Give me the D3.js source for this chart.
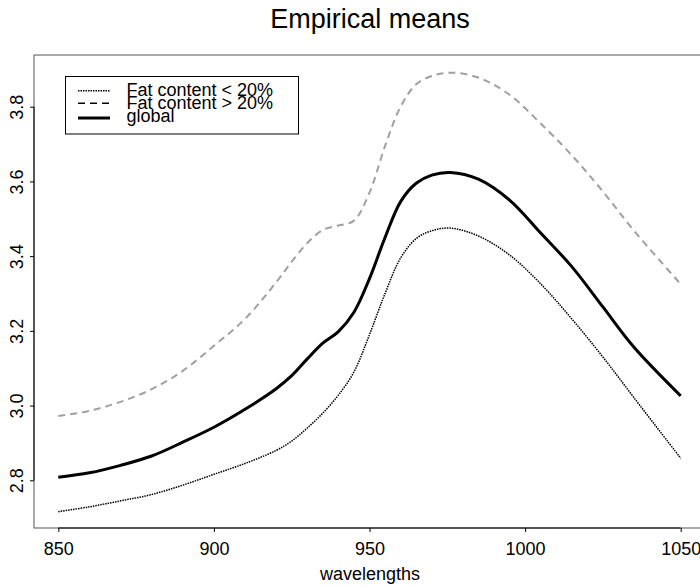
<!DOCTYPE html>
<html>
<head>
<meta charset="utf-8">
<script src="https://cdn.jsdelivr.net/npm/d3@7"></script>
<style>
  html, body { margin: 0; padding: 0; background: #fff; }
  svg { display: block; font-family: "Liberation Sans", Arial, Helvetica, sans-serif; }
</style>
</head>
<body>
<svg id="chart" width="700" height="587"></svg>
<script>
// ---- data ----
const wavelengths = [850, 860, 870, 880, 890, 900, 910, 920, 925, 930, 935, 940, 945, 950, 955, 960, 965, 970, 976, 985, 995, 1005, 1015, 1025, 1035, 1050];
const fatLow  = [2.716, 2.729, 2.745, 2.762, 2.787, 2.816, 2.845, 2.880, 2.905, 2.940, 2.980, 3.028, 3.090, 3.190, 3.300, 3.395, 3.447, 3.468, 3.475, 3.454, 3.403, 3.326, 3.232, 3.130, 3.021, 2.859];
const fatHigh = [2.972, 2.986, 3.010, 3.044, 3.093, 3.160, 3.232, 3.330, 3.385, 3.435, 3.470, 3.482, 3.495, 3.570, 3.695, 3.800, 3.860, 3.882, 3.891, 3.878, 3.832, 3.755, 3.670, 3.573, 3.468, 3.325];
const globalMean = [2.808, 2.820, 2.840, 2.865, 2.902, 2.942, 2.990, 3.045, 3.080, 3.125, 3.167, 3.198, 3.250, 3.340, 3.450, 3.546, 3.595, 3.617, 3.624, 3.606, 3.550, 3.462, 3.372, 3.264, 3.156, 3.026];
const xTicks = [850, 900, 950, 1000, 1050];
const yTicks = [2.8, 3.0, 3.2, 3.4, 3.6, 3.8];
const legendLabels = ["Fat content < 20%", "Fat content > 20%", "global"];
const titleText = "Empirical means";
const xLabel = "wavelengths";

// ---- layout ----
const svg = d3.select("#chart");
const box = { left: 34, top: 55, right: 706, bottom: 528 };
const x = d3.scaleLinear().domain([850, 1050]).range([58.3, 680.7]);
const y = d3.scaleLinear().domain([2.8, 3.8]).range([480.3, 106.7]);

// plot box
svg.append("rect")
  .attr("x", box.left).attr("y", box.top)
  .attr("width", box.right - box.left).attr("height", box.bottom - box.top)
  .attr("fill", "none").attr("stroke", "#555").attr("stroke-width", 1);

// x axis
const gx = svg.append("g").attr("transform", `translate(0,${box.bottom})`)
  .call(d3.axisBottom(x).tickValues(xTicks).tickFormat(d3.format("d")).tickSize(4).tickPadding(10));
gx.select(".domain").remove();
gx.append("line").attr("x1", x(850)).attr("x2", x(1050)).attr("stroke", "#000");
gx.selectAll("text").attr("font-size", 18).attr("fill", "#000").attr("font-family", null);
gx.selectAll(".tick line").attr("stroke", "#000");

// y axis
const gy = svg.append("g").attr("transform", `translate(${box.left},0)`)
  .call(d3.axisLeft(y).tickValues(yTicks).tickFormat(d3.format(".1f")).tickSize(4));
gy.select(".domain").remove();
gy.append("line").attr("y1", y(2.8)).attr("y2", y(3.8)).attr("stroke", "#000");
gy.selectAll(".tick line").attr("stroke", "#000");
gy.selectAll("text")
  .attr("font-size", 18).attr("fill", "#000").attr("font-family", null)
  .attr("transform", "rotate(-90)")
  .attr("x", 0).attr("y", -11).attr("dy", 0)
  .attr("text-anchor", "middle");

// lines
const line = d3.line().x((d, i) => x(wavelengths[i])).y(d => y(d)).curve(d3.curveCatmullRom.alpha(0.5));

svg.append("path").datum(fatHigh).attr("d", line)
  .attr("fill", "none").attr("stroke", "#a0a0a0").attr("stroke-width", 2)
  .attr("stroke-dasharray", "7,5");
svg.append("path").datum(fatLow).attr("d", line)
  .attr("fill", "none").attr("stroke", "#000").attr("stroke-width", 1.5)
  .attr("stroke-dasharray", "1.5,1");
svg.append("path").datum(globalMean).attr("d", line)
  .attr("fill", "none").attr("stroke", "#000").attr("stroke-width", 3);

// title & label
svg.append("text").attr("x", 370).attr("y", 28).attr("text-anchor", "middle")
  .attr("font-size", 27).attr("fill", "#000").text(titleText);
svg.append("text").attr("x", 370).attr("y", 580).attr("text-anchor", "middle")
  .attr("font-size", 18).attr("fill", "#000").text(xLabel);

// legend
const lg = svg.append("g");
lg.append("rect").attr("x", 65.5).attr("y", 76.5).attr("width", 233).attr("height", 57.5)
  .attr("fill", "#fff").attr("stroke", "#000").attr("stroke-width", 1);
const legendStyles = [
  { dash: "1.5,1", w: 1.5, ly: 90.7, ty: 95.5 },
  { dash: "7,5", w: 1.5, ly: 103.3, ty: 108.5 },
  { dash: null, w: 3, ly: 118, ty: 121.5 }
];
legendLabels.forEach((lab, i) => {
  const s = legendStyles[i];
  lg.append("line").attr("x1", 78).attr("x2", 110).attr("y1", s.ly).attr("y2", s.ly)
    .attr("stroke", "#000").attr("stroke-width", s.w).attr("stroke-dasharray", s.dash);
  lg.append("text").attr("x", 126.5).attr("y", s.ty).attr("font-size", 18).attr("fill", "#000").text(lab);
});
</script>
</body>
</html>
